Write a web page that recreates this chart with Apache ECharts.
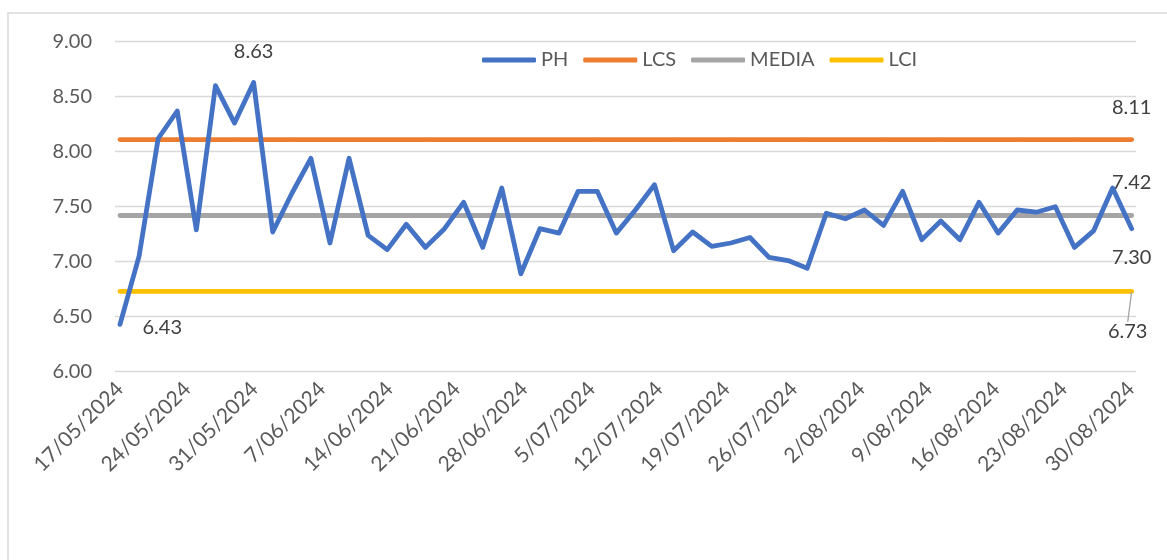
<!DOCTYPE html>
<html>
<head>
<meta charset="utf-8">
<script src="https://cdn.jsdelivr.net/npm/echarts@6/dist/echarts.min.js"></script>
<style>
html,body{margin:0;padding:0;background:#fff;}
#chart{width:1167px;height:560px;}
</style>
</head>
<body>
<div id="chart"></div>
<script>
// ---- data ----
const dates = ['17/05/2024','19/05/2024','21/05/2024','23/05/2024','25/05/2024','27/05/2024','29/05/2024','31/05/2024',
  '2/06/2024','4/06/2024','6/06/2024','8/06/2024','10/06/2024','12/06/2024','14/06/2024','16/06/2024','18/06/2024',
  '20/06/2024','22/06/2024','24/06/2024','26/06/2024','28/06/2024','30/06/2024','2/07/2024','4/07/2024','6/07/2024',
  '8/07/2024','10/07/2024','11/07/2024','13/07/2024','15/07/2024','17/07/2024','19/07/2024','21/07/2024','23/07/2024',
  '25/07/2024','27/07/2024','29/07/2024','31/07/2024','2/08/2024','4/08/2024','6/08/2024','8/08/2024','10/08/2024',
  '12/08/2024','14/08/2024','16/08/2024','18/08/2024','20/08/2024','22/08/2024','24/08/2024','26/08/2024','28/08/2024',
  '30/08/2024'];
const ph = [6.43,7.05,8.12,8.37,7.29,8.60,8.26,8.63,7.27,7.62,7.94,7.17,7.94,7.24,7.11,7.34,7.13,7.30,
  7.54,7.13,7.67,6.89,7.30,7.26,7.64,7.64,7.26,7.47,7.70,7.10,7.27,7.14,7.17,7.22,7.04,7.01,
  6.94,7.44,7.39,7.47,7.33,7.64,7.20,7.37,7.20,7.54,7.26,7.47,7.45,7.50,7.13,7.28,7.67,7.30];
const lcs = 8.11;
const media = 7.42;
const lci = 6.73;
const tickLabels = ['17/05/2024','24/05/2024','31/05/2024','7/06/2024','14/06/2024','21/06/2024','28/06/2024',
  '5/07/2024','12/07/2024','19/07/2024','26/07/2024','2/08/2024','9/08/2024','16/08/2024','23/08/2024','30/08/2024'];
const yTicks = [6.00,6.50,7.00,7.50,8.00,8.50,9.00];

// ---- helpers ----
function dayOffset(s){
  const p = s.split('/').map(Number);
  return Math.round((Date.UTC(p[2],p[1]-1,p[0]) - Date.UTC(2024,4,17))/86400000);
}
const tickOffsets = tickLabels.map(dayOffset);
const FONT = 'Lato';
const labelColor = '#404040';
const n = dates.length;

function constSeries(v, labelCfg){
  return dates.map((d,i)=> i===n-1 ? {value:v, label:Object.assign({show:true}, labelCfg)} : v);
}
const phMax = Math.max(...ph);
const phData = ph.map((v,i)=>{
  const item = {value:v};
  if(i===0) item.label = {show:true, position:'right', distance:22, offset:[0,3]};
  if(v===phMax) item.label = {show:true, position:'top', distance:20};
  if(i===n-1) item.label = {show:true, position:'bottom', distance:18};
  return item;
});

const chart = echarts.init(document.getElementById('chart'), null, {renderer:'canvas'});
const commonLine = (color)=>({
  type:'line', xAxisIndex:1, yAxisIndex:1,
  showSymbol:true, symbol:'circle', symbolSize:1,
  itemStyle:{color:color}, lineStyle:{color:color, width:4.8, cap:'round', join:'round'},
  label:{show:false, color:labelColor, fontFamily:FONT, fontSize:20, formatter:(p)=>Number(p.value).toFixed(2)},
  emphasis:{disabled:true}, animation:false, z:2
});

const G = {top:41.7, bottom:188.3};
chart.setOption({
  animation:false,
  textStyle:{fontFamily:FONT},
  graphic:[{type:'rect', shape:{x:8,y:13,width:1400,height:800}, style:{fill:'none', stroke:'#d9d9d9', lineWidth:1.5}, silent:true}],
  legend:{
    top:45, left:477, icon:'roundRect', itemWidth:54, itemHeight:5, itemGap:15,
    textStyle:{color:'#595959', fontSize:20, fontFamily:FONT},
    data:['PH','LCS','MEDIA','LCI']
  },
  grid:[
    {left:115, right:31, top:G.top, bottom:G.bottom},
    {left:120, right:35.3, top:G.top, bottom:G.bottom}
  ],
  xAxis:[
    {
      type:'value', gridIndex:0, min:-0.5, max:105.5,
      axisLine:{show:false}, axisTick:{show:false}, splitLine:{show:false},
      axisLabel:{
        customValues:tickOffsets, rotate:45, margin:14,
        color:'#595959', fontSize:21, fontFamily:FONT,
        formatter:(v)=>{const k=tickOffsets.indexOf(Math.round(v)); return k>=0?tickLabels[k]:'';}
      }
    },
    {
      type:'category', gridIndex:1, data:dates, boundaryGap:false, show:false
    }
  ],
  yAxis:[
    {
      type:'value', gridIndex:0, min:yTicks[0], max:yTicks[yTicks.length-1], interval:0.5,
      axisLine:{show:false}, axisTick:{show:false},
      splitLine:{lineStyle:{color:'#d9d9d9', width:1.3}},
      axisLabel:{margin:23, color:'#595959', fontSize:20, fontFamily:FONT, formatter:(v)=>v.toFixed(2)}
    },
    {
      type:'value', gridIndex:1, min:yTicks[0], max:yTicks[yTicks.length-1], show:false, splitLine:{show:false}
    }
  ],
  series:[
    Object.assign(commonLine('#4472C4'), {name:'PH', data:phData, z:5}),
    Object.assign(commonLine('#ED7D31'), {name:'LCS', data:constSeries(lcs,{position:'top', distance:22})}),
    Object.assign(commonLine('#A5A5A5'), {name:'MEDIA', data:constSeries(media,{position:'top', distance:22})}),
    Object.assign(commonLine('#FFC000'), {name:'LCI', data:constSeries(lci,{position:'bottom', distance:4}),
      labelLayout:{dy:26, dx:-4}, labelLine:{show:true, lineStyle:{color:'#a5a5a5', width:1.3}}})
  ]
});
</script>
</body>
</html>
